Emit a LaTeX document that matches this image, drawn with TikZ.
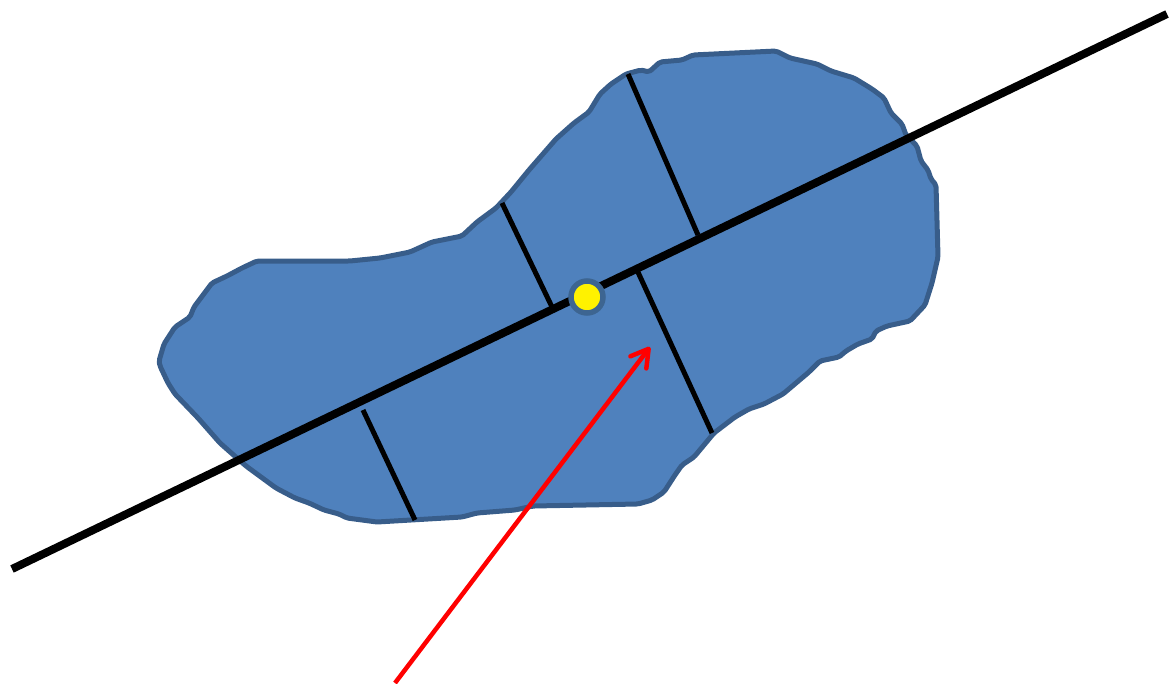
\documentclass[tikz,border=0pt]{standalone}
\usetikzlibrary{arrows.meta}
\definecolor{blobfill}{HTML}{4F81BD}
\definecolor{blobedge}{HTML}{385D8A}
\definecolor{dotedge}{HTML}{3D6591}
\tikzset{
  blob/.style={fill=blobfill,draw=blobedge,line width=5pt,line join=round,rounded corners=2pt},
  axisline/.style={line width=8pt,black},
  tick/.style={line width=5pt,black},
  centerdot/.style={circle,fill=yellow,draw=dotedge,line width=5.5pt,minimum size=32pt,inner sep=0pt},
  redarrow/.style={red,line width=4.5pt,-{Straight Barb[length=17pt,width=20pt,line cap=round,line join=round]}}
}
\begin{document}
\begin{tikzpicture}[x=1pt,y=-1pt]
\useasboundingbox (0,0) rectangle (1169,683);
% blob
\draw[blob] (159,361) -- (164,344) -- (175,327) -- (190,317) -- (194,307) -- (212,283) -- (227,276) -- (242,268) -- (257,261)
 -- (350,261) -- (380,258) -- (410,252) -- (432,242) -- (462,236) -- (477,222) -- (496,208) -- (511,192) -- (529,170)
 -- (556,139) -- (574,123) -- (589,112) -- (600,94) -- (611,84) -- (626,74) -- (641,70) -- (649,72) -- (660,62)
 -- (682,60) -- (693,55) -- (776,51) -- (790,58) -- (817,64) -- (831,71) -- (854,78) -- (872,89) -- (884,98)
 -- (891,113) -- (902,124) -- (906,135) -- (917,146) -- (921,161) -- (928,170) -- (931,179) -- (936,185)
 -- (938,257) -- (932,283) -- (925,305) -- (910,321) -- (887,326) -- (876,331) -- (872,339) -- (858,344)
 -- (846,351) -- (839,357) -- (820,361) -- (809,372) -- (783,394) -- (764,404) -- (749,409) -- (735,417)
 -- (714,433) -- (694,457) -- (682,465) -- (675,475) -- (664,492) -- (652,500) -- (638,504) -- (533,506)
 -- (515,510) -- (477,513) -- (462,517) -- (377,522) -- (347,518) -- (339,514) -- (324,510) -- (309,503)
 -- (295,498) -- (276,488) -- (246,466) -- (220,443) -- (198,418) -- (175,394) -- (168,383) -- (160,366) -- cycle;
% main axis
\coordinate (a1) at (12,569);
\coordinate (a2) at (1167,14);
\draw[axisline] (a1) -- (a2);
% perpendicular ticks
\coordinate (t1a) at (363,410); \coordinate (t1b) at (415,520);
\coordinate (t2a) at (502,203); \coordinate (t2b) at (552,307);
\coordinate (t3a) at (637,270); \coordinate (t3b) at (712,433);
\coordinate (t4a) at (628,74);  \coordinate (t4b) at (698,235);
\draw[tick] (t1a) -- (t1b);
\draw[tick] (t2a) -- (t2b);
\draw[tick] (t3a) -- (t3b);
\draw[tick] (t4a) -- (t4b);
% centre dot
\node[centerdot] (c) at (587,297) {};
% red arrow
\coordinate (r1) at (395,683);
\coordinate (r2) at (650,347);
\draw[redarrow] (r1) -- (r2);
\end{tikzpicture}
\end{document}
